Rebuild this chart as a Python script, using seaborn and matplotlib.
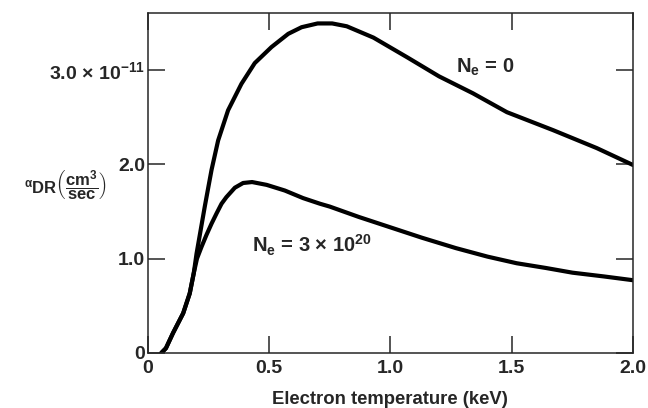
import pandas as pd
import seaborn as sns
import matplotlib.pyplot as plt

# curves (keV, units of 1e-11 cm^3/sec)
temp_ne0 = [0.056, 0.075, 0.104, 0.146, 0.173, 0.19, 0.201, 0.218, 0.235, 0.25, 0.263, 0.29,
            0.331, 0.386, 0.441, 0.51, 0.579, 0.634, 0.70, 0.76, 0.82, 0.93, 1.07, 1.20, 1.34,
            1.48, 1.67, 1.85, 2.0]
rate_ne0 = [0.0, 0.05, 0.21, 0.42, 0.63, 0.85, 1.05, 1.30, 1.55, 1.76, 1.94, 2.25,
            2.57, 2.85, 3.07, 3.24, 3.38, 3.45, 3.49, 3.49, 3.46, 3.34, 3.13, 2.93, 2.75,
            2.55, 2.36, 2.17, 1.99]

temp_ne20 = [0.056, 0.075, 0.104, 0.146, 0.173, 0.19, 0.203, 0.221, 0.242, 0.263, 0.284,
             0.304, 0.324, 0.359, 0.393, 0.43, 0.49, 0.565, 0.64, 0.71, 0.75, 0.87, 1.0, 1.13,
             1.27, 1.40, 1.52, 1.64, 1.75, 1.88, 2.0]
rate_ne20 = [0.0, 0.05, 0.21, 0.42, 0.63, 0.85, 1.0, 1.12, 1.25, 1.37, 1.48,
             1.58, 1.65, 1.75, 1.80, 1.81, 1.78, 1.72, 1.64, 1.58, 1.55, 1.44, 1.33, 1.22,
             1.11, 1.02, 0.95, 0.90, 0.85, 0.81, 0.77]

label_ne0 = r'N$_\mathregular{e}$ = 0'
label_ne20 = r'N$_\mathregular{e}$ = 3 $\times$ 10$^\mathregular{20}$'

sns.set_style('ticks')
plt.rcParams['font.family'] = ['Liberation Sans', 'DejaVu Sans']
plt.rcParams['font.weight'] = 'bold'
plt.rcParams['mathtext.fontset'] = 'custom'
plt.rcParams['mathtext.rm'] = 'Liberation Sans:bold'
plt.rcParams['mathtext.it'] = 'Liberation Sans:bold'
plt.rcParams['mathtext.bf'] = 'Liberation Sans:bold'

df0 = pd.DataFrame({'T': temp_ne0, 'alpha': rate_ne0})
df20 = pd.DataFrame({'T': temp_ne20, 'alpha': rate_ne20})

fig = plt.figure(figsize=(6.48, 4.08), dpi=100)
ax = fig.add_axes([0.228, 0.135, 0.749, 0.833])

sns.lineplot(data=df0, x='T', y='alpha', ax=ax, color='black', lw=3, sort=False)
sns.lineplot(data=df20, x='T', y='alpha', ax=ax, color='black', lw=3, sort=False)

ax.set_xlim(0, 2.0)
ax.set_ylim(0, 3.6)
ax.set_xticks([0, 0.5, 1.0, 1.5, 2.0])
ax.set_xticklabels(['0', '0.5', '1.0', '1.5', '2.0'])
ax.set_yticks([0, 1.0, 2.0, 3.0])
ax.set_yticklabels(['0', '1.0', '2.0', r'3.0 $\times$ 10$^{-11}$'])
ax.tick_params(direction='in', length=12, width=1.1, labelsize=14,
               top=True, right=True)
ax.tick_params(axis='y', pad=2)
ax.tick_params(axis='x', pad=5)
for s in ax.spines.values():
    s.set_linewidth(1.1)

ax.set_xlabel('Electron temperature (keV)', fontsize=13.3, fontweight='bold', labelpad=10)
ax.set_ylabel('')
ax.text(-0.17, 0.49, r'$^{\alpha}$DR$\left(\dfrac{\mathregular{cm^3}}{\mathregular{sec}}\right)$',
        transform=ax.transAxes, ha='center', va='center', fontsize=12)

ax.text(1.27, 3.02, label_ne0, fontsize=14.5, va='center')
ax.text(0.43, 1.14, label_ne20, fontsize=14.5, va='center')

plt.savefig('out.png', dpi=100)
